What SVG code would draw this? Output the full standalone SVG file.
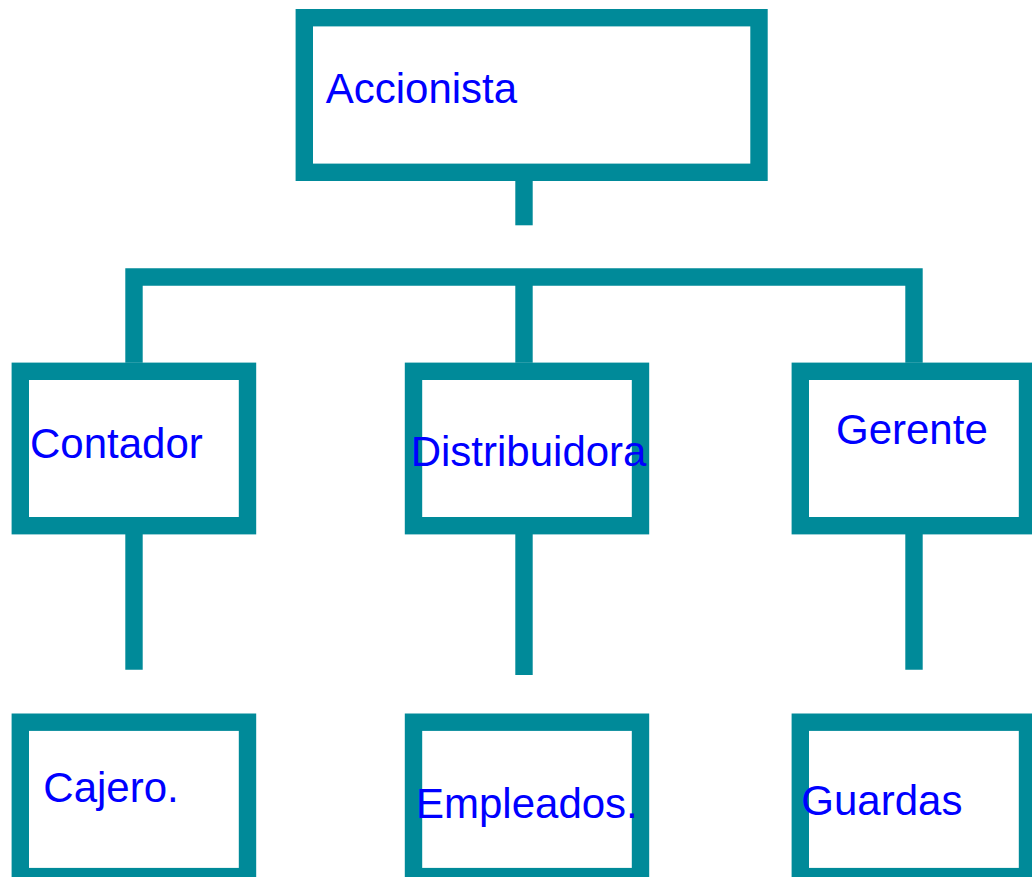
<svg xmlns="http://www.w3.org/2000/svg" width="1032" height="877" viewBox="0 0 1032 877">
<style>
.box{fill:#ffffff;stroke:#008A99;stroke-width:17.4}
.con{fill:none;stroke:#008A99;stroke-width:17.4;stroke-linejoin:miter;stroke-linecap:butt}
.lbl{font-family:"Liberation Sans",Arial,sans-serif;font-size:42px;fill:#0000FF}
</style>
<rect width="1032" height="877" fill="#ffffff"/>
<g id="connectors">
<path class="con" d="M524,181 V225.3"/>
<path class="con" d="M134,362.7 V277 H914 V362.7"/>
<path class="con" d="M524,277 V362.7"/>
<path class="con" d="M134,534 V669.7"/>
<path class="con" d="M524,534 V675"/>
<path class="con" d="M914,534 V669.7"/>
</g>
<g id="accionista">
<rect class="box" x="304.3" y="17.7" width="454.7" height="154.6"/>
<text class="lbl" x="325.7" y="103">Accionista</text>
</g>
<g id="contador">
<rect class="box" x="20.3" y="371.3" width="227.2" height="154.4"/>
<text class="lbl" x="30" y="458.3">Contador</text>
</g>
<g id="distribuidora">
<rect class="box" x="413.5" y="371.3" width="227" height="154.4"/>
<text class="lbl" x="410.7" y="466">Distribuidora</text>
</g>
<g id="gerente">
<rect class="box" x="800.3" y="371.3" width="227.2" height="154.4"/>
<text class="lbl" x="836" y="444.3">Gerente</text>
</g>
<g id="cajero">
<rect class="box" x="20.3" y="722.2" width="227.2" height="154.4"/>
<text class="lbl" x="43.3" y="801.7">Cajero.</text>
</g>
<g id="empleados">
<rect class="box" x="413.5" y="722.2" width="227" height="154.4"/>
<text class="lbl" x="416" y="817.7">Empleados.</text>
</g>
<g id="guardas">
<rect class="box" x="800.3" y="722.2" width="227.2" height="154.4"/>
<text class="lbl" x="801.3" y="815">Guardas</text>
</g>
</svg>
